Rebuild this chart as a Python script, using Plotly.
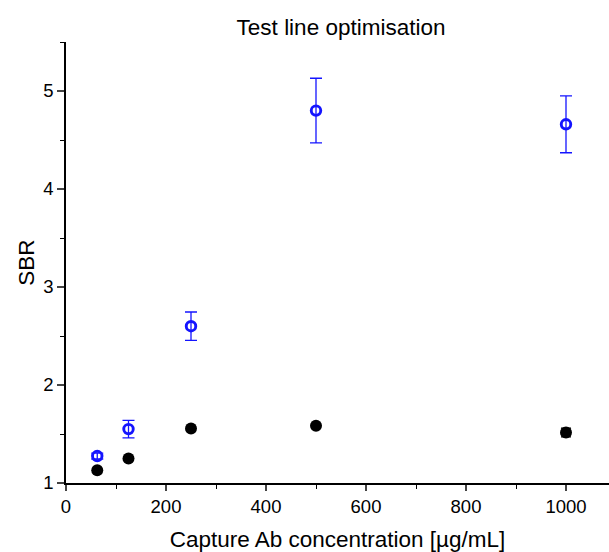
import plotly.graph_objects as go

conc = [62.5, 125, 250, 500, 1000]
blue_sbr = [1.275, 1.55, 2.60, 4.80, 4.66]
blue_err = [0.03, 0.09, 0.145, 0.33, 0.29]
black_sbr = [1.13, 1.25, 1.555, 1.585, 1.515]
black_err = [0.01, 0.015, 0.01, 0.01, 0.045]

fig = go.Figure()
fig.add_trace(go.Scatter(
    x=conc, y=black_sbr, mode="markers",
    marker=dict(symbol="circle", size=12, color="black"),
    error_y=dict(type="data", array=black_err, color="black", thickness=1.3, width=5),
    showlegend=False))
fig.add_trace(go.Scatter(
    x=conc, y=blue_sbr, mode="markers",
    marker=dict(symbol="circle-open", size=9.5, color="#1414ff", line=dict(width=2.9, color="#1414ff")),
    error_y=dict(type="data", array=blue_err, color="#1414ff", thickness=1.3, width=6),
    showlegend=False))

font = "Liberation Sans, Arial, sans-serif"
fig.update_layout(
    width=609, height=552,
    margin=dict(l=66, r=0, t=42, b=69),
    paper_bgcolor="white", plot_bgcolor="white",
    font=dict(family=font, size=18.5, color="black"),
    title=dict(text="Test line optimisation", x=0.56, xanchor="center", y=0.95, yanchor="middle",
               font=dict(size=22.5, family=font)),
    xaxis=dict(range=[0, 1086], tickvals=[0, 200, 400, 600, 800, 1000], showgrid=False, zeroline=False,
               showline=True, linecolor="black", linewidth=1.5, ticks="outside", ticklen=6, tickwidth=1.5,
               minor=dict(dtick=100, tick0=0, ticks="outside", ticklen=4, tickwidth=1.2, tickcolor="black"),
               title=dict(text="Capture Ab concentration [µg/mL]", font=dict(size=22.5), standoff=15)),
    yaxis=dict(range=[1, 5.5], tickvals=[1, 2, 3, 4, 5], showgrid=False, zeroline=False,
               showline=True, linecolor="black", linewidth=1.5, ticks="outside", ticklen=7, tickwidth=1.5,
               minor=dict(dtick=0.5, tick0=1, ticks="outside", ticklen=4, tickwidth=1.2, tickcolor="black"),
               title=dict(text="SBR", font=dict(size=22.5), standoff=2)),
)
fig.write_html("out.html")
